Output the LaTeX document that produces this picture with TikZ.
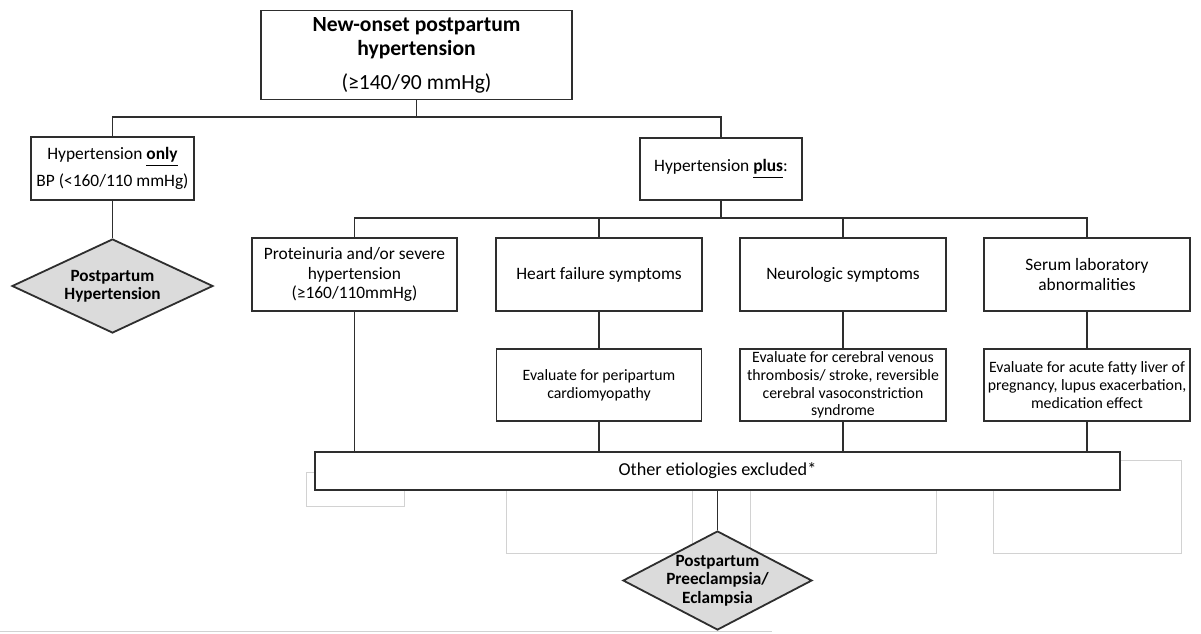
\documentclass[tikz,border=0pt]{standalone}
\usepackage{fontspec}
\setmainfont{Carlito}
\usetikzlibrary{shapes.geometric}

\definecolor{lineclr}{gray}{0.18}
\definecolor{dfill}{gray}{0.86}

\tikzset{
  box/.style={draw=lineclr, line width=0.9pt, fill=white, align=center, inner sep=1pt,
    font=\fontsize{8.7}{9.8}\selectfont},
  evalbox/.style={box, font=\fontsize{7.9}{8.8}\selectfont},
  outcome/.style={diamond, aspect=2, draw=lineclr, line width=0.9pt, fill=dfill, align=center,
    inner sep=-4pt, font=\bfseries\fontsize{8.6}{9.2}\selectfont},
  link/.style={draw=lineclr, line width=0.9pt},
  ghost/.style={draw=gray!35, line width=0.5pt}
}

\begin{document}
\begin{tikzpicture}[x=0.5pt, y=-0.5pt]
  \fill[white] (0,0) rectangle (1201,633);
  \useasboundingbox (0,0) rectangle (1201,633);
  % faint leftovers
  \draw[ghost] (306,472) rectangle (404,506);
  \draw[ghost] (506,480) rectangle (692,553);
  \draw[ghost] (750,480) rectangle (936,553);
  \draw[ghost] (993,460) rectangle (1181,553);
  \draw[ghost] (0,631) -- (772,631);

  \node[box, minimum width=155.5pt, minimum height=44.5pt, font=\fontsize{10.8}{12}\selectfont] (onset) at (416.5,55)
    {\textbf{New-onset postpartum}\\\textbf{hypertension}\\[5pt](≥140/90 mmHg)};
  \node[box, minimum width=81.5pt, minimum height=31.5pt] (honly) at (112.5,168.5)
    {Hypertension \underline{\textbf{only}}\\[3.5pt]BP (<160/110 mmHg)};
  \node[outcome, minimum width=100.5pt, minimum height=47pt] (pph) at (112.5,286)
    {Postpartum\\Hypertension};
  \node[box, minimum width=81pt, minimum height=31pt] (hplus) at (721,169)
    {Hypertension \underline{\textbf{plus}}:};

  \node[box, minimum width=102.5pt, minimum height=36.5pt] (prot) at (354.5,274.5)
    {Proteinuria and/or severe\\hypertension\\(≥160/110mmHg)};
  \node[box, minimum width=103pt, minimum height=36.5pt] (heart) at (599,274.5)
    {Heart failure symptoms};
  \node[box, minimum width=103pt, minimum height=36.5pt] (neuro) at (843,274.5)
    {Neurologic symptoms};
  \node[box, minimum width=103pt, minimum height=36.5pt] (serum) at (1087,274.5)
    {Serum laboratory\\abnormalities};

  \node[evalbox, minimum width=102.5pt, minimum height=36pt] (peri) at (599,385)
    {Evaluate for peripartum\\cardiomyopathy};
  \node[evalbox, minimum width=103pt, minimum height=36pt] (cvt) at (843,385)
    {Evaluate for cerebral venous\\thrombosis/ stroke, reversible\\cerebral vasoconstriction\\syndrome};
  \node[evalbox, minimum width=103pt, minimum height=36pt] (aflp) at (1087,385)
    {Evaluate for acute fatty liver of\\pregnancy, lupus exacerbation,\\medication effect};

  \node[box, minimum width=402.5pt, minimum height=19pt, font=\fontsize{9.1}{10}\selectfont] (other) at (717.5,471)
    {Other etiologies excluded*};
  \node[outcome, minimum width=94.5pt, minimum height=49.5pt] (ppe) at (717.5,580.5)
    {Postpartum\\Preeclampsia/\\Eclampsia};

  \coordinate (s1) at (416.5,117);
  \coordinate (s2) at (721,218);
  \draw[link] (onset) -- (s1) -| (honly);
  \draw[link] (s1) -| (hplus);
  \draw[link] (honly) -- (pph);
  \draw[link] (hplus) -- (s2);
  \draw[link] (s2) -| (prot);
  \draw[link] (s2) -| (heart);
  \draw[link] (s2) -| (neuro);
  \draw[link] (s2) -| (serum);
  \draw[link] (heart) -- (peri);
  \draw[link] (neuro) -- (cvt);
  \draw[link] (serum) -- (aflp);
  \draw[link] (prot) -- (prot |- other.north);
  \draw[link] (peri) -- (peri |- other.north);
  \draw[link] (cvt) -- (cvt |- other.north);
  \draw[link] (aflp) -- (aflp |- other.north);
  \draw[link] (other) -- (ppe);
\end{tikzpicture}
\end{document}
